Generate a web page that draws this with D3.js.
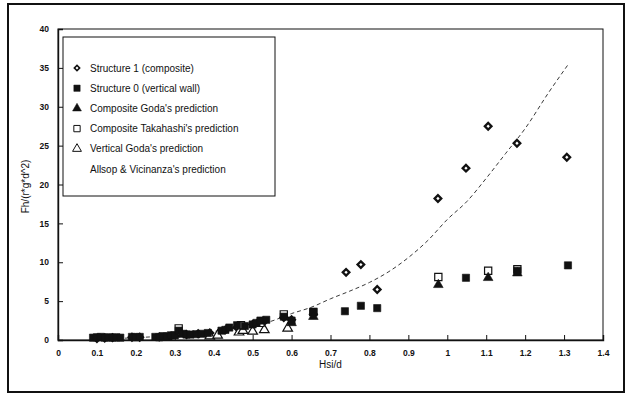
<!DOCTYPE html>
<html>
<head>
<meta charset="utf-8">
<script src="https://cdn.jsdelivr.net/npm/d3@7"></script>
<style>
  body { margin: 0; background: #fff; }
  svg { display: block; font-family: "Liberation Sans", Arial, sans-serif; }
</style>
</head>
<body>
<svg id="chart" width="627" height="397"></svg>
<script>
// values: [Hsi/d, Fh/(r*g*d^2)]
var structure1 = [[0.10,0.2],[0.12,0.25],[0.14,0.3],[0.19,0.35],[0.21,0.35],[0.26,0.4],[0.29,0.5],[0.31,0.9],
  [0.33,0.7],[0.36,0.8],[0.39,0.9],[0.43,1.3],[0.46,1.6],[0.50,2.0],[0.53,2.4],[0.58,2.9],[0.60,2.6],
  [0.656,3.3],[0.74,8.7],[0.778,9.7],[0.82,6.5],[0.976,18.2],[1.048,22.1],[1.105,27.5],[1.179,25.3],[1.307,23.5]];
var structure0 = [[0.09,0.3],[0.10,0.35],[0.11,0.4],[0.12,0.3],[0.13,0.35],[0.14,0.3],[0.15,0.35],[0.16,0.3],
  [0.19,0.4],[0.20,0.35],[0.21,0.4],[0.25,0.4],[0.26,0.35],[0.27,0.5],[0.28,0.45],[0.29,0.6],[0.30,0.6],
  [0.31,1.2],[0.32,0.8],[0.33,0.7],[0.34,0.7],[0.355,0.75],[0.37,0.8],[0.385,0.9],[0.42,1.2],[0.43,1.3],
  [0.44,1.6],[0.46,1.9],[0.48,1.8],[0.50,2.0],[0.51,2.2],[0.52,2.5],[0.535,2.6],[0.58,3.0],[0.60,2.5],
  [0.656,3.6],[0.737,3.7],[0.778,4.4],[0.82,4.1],[1.048,8.0],[1.18,8.9],[1.31,9.6]];
var compositeGoda = [[0.60,2.2],[0.656,3.0],[0.977,7.1],[1.105,8.0],[1.18,8.6]];
var compositeTakahashi = [[0.31,1.5],[0.47,1.9],[0.52,2.2],[0.58,3.3],[0.656,3.6],[0.977,8.1],[1.105,8.9],[1.18,9.1]];
var verticalGoda = [[0.39,0.5],[0.41,0.6],[0.465,1.0],[0.475,1.2],[0.50,1.1],[0.53,1.3],[0.59,1.5]];
var allsop = [[0.1,0.1],[0.2,0.3],[0.3,0.6],[0.4,1.1],[0.5,1.9],[0.54,2.3],[0.6,3.4],[0.65,4.2],[0.7,5.3],
  [0.75,6.3],[0.8,7.4],[0.85,8.8],[0.9,10.6],[0.95,12.8],[1.0,15.5],[1.05,17.8],[1.1,20.8],[1.15,24.0],
  [1.2,27.2],[1.26,31.8],[1.31,35.4]];

var xTicks = [0,0.1,0.2,0.3,0.4,0.5,0.6,0.7,0.8,0.9,1,1.1,1.2,1.3,1.4];
var yTicks = [0,5,10,15,20,25,30,35,40];
var legendLabels = ["Structure 1 (composite)", "Structure 0 (vertical wall)", "Composite Goda's prediction",
  "Composite Takahashi's prediction", "Vertical Goda's prediction", "Allsop & Vicinanza's prediction"];

var svg = d3.select("#chart");
var margin = {left: 58, top: 29, right: 24, bottom: 57};
var width = 627 - margin.left - margin.right,
    height = 397 - margin.top - margin.bottom;

var x = d3.scaleLinear().domain([0, 1.4]).range([0, width]);
var y = d3.scaleLinear().domain([0, 40]).range([height, 0]);

// outer frame
svg.append("rect")
  .attr("x", 8).attr("y", 4).attr("width", 616).attr("height", 388)
  .attr("fill", "none").attr("stroke", "#111").attr("stroke-width", 2);

var g = svg.append("g").attr("transform", "translate(" + margin.left + "," + margin.top + ")");

// plot box
g.append("rect")
  .attr("width", width).attr("height", height)
  .attr("fill", "none").attr("stroke", "#111").attr("stroke-width", 1);

var xAxis = d3.axisBottom(x).tickValues(xTicks).tickSize(-5).tickPadding(10)
  .tickFormat(function(d) { return d3.format("")(+d.toFixed(1)); });
var yAxis = d3.axisLeft(y).tickValues(yTicks).tickSize(-5).tickPadding(9);

var gx = g.append("g").attr("transform", "translate(0," + height + ")").call(xAxis);
var gy = g.append("g").call(yAxis);
[gx, gy].forEach(function(a) {
  a.select(".domain").attr("stroke", "#111").attr("stroke-width", 1.4);
  a.selectAll(".tick line").attr("stroke", "#111");
  a.selectAll(".tick text").attr("fill", "#111").style("font-size", "8.5px").style("font-weight", "bold");
});

// axis titles
g.append("text")
  .attr("x", x(0.7)).attr("y", height + 28)
  .attr("text-anchor", "middle").style("font-size", "10px").attr("fill", "#111")
  .text("Hsi/d");
g.append("text")
  .attr("transform", "translate(" + (-29) + "," + (height / 2 + 2) + ") rotate(-90)")
  .attr("text-anchor", "middle").style("font-size", "10px").attr("fill", "#111")
  .text("Fh/(r*g*d^2)");

// Allsop & Vicinanza line
var line = d3.line().x(function(d) { return x(d[0]); }).y(function(d) { return y(d[1]); }).curve(d3.curveMonotoneX);
g.append("path").datum(allsop)
  .attr("d", line).attr("fill", "none").attr("stroke", "#222")
  .attr("stroke-width", 0.9).attr("stroke-dasharray", "4,3");

var sq = d3.symbol().type(d3.symbolSquare).size(52);
var tri = d3.symbol().type(d3.symbolTriangle).size(40);
var dia = d3.symbol().type(d3.symbolSquare).size(22);

function drawPoints(data, path, fill, stroke, sw, rotate) {
  g.append("g").selectAll("path").data(data).join("path")
    .attr("transform", function(d) {
      return "translate(" + x(d[0]) + "," + y(d[1]) + ")" + (rotate ? " rotate(45)" : "");
    })
    .attr("d", path).attr("fill", fill).attr("stroke", stroke).attr("stroke-width", sw);
}

drawPoints(structure1, dia, "#fff", "#111", 2.3, true);
drawPoints(verticalGoda, tri, "#fff", "#111", 1.2);
drawPoints(compositeTakahashi, sq, "#fff", "#111", 1.2);
drawPoints(structure0, sq, "#111", "#111", 0.6);
drawPoints(compositeGoda, tri, "#111", "#111", 0.6);

// legend
var lg = g.append("g").attr("transform", "translate(" + (63 - margin.left) + "," + (37 - margin.top) + ")");
lg.append("rect").attr("width", 212).attr("height", 159)
  .attr("fill", "#fff").attr("stroke", "#111").attr("stroke-width", 1);
var legendSymbols = [
  {path: d3.symbol().type(d3.symbolSquare).size(14), fill: "#fff", stroke: "#111", sw: 1.6, rot: true},
  {path: d3.symbol().type(d3.symbolSquare).size(40), fill: "#111", stroke: "#111", sw: 0.5},
  {path: d3.symbol().type(d3.symbolTriangle).size(34), fill: "#111", stroke: "#111", sw: 0.5},
  {path: d3.symbol().type(d3.symbolSquare).size(40), fill: "#fff", stroke: "#111", sw: 1},
  {path: d3.symbol().type(d3.symbolTriangle).size(34), fill: "#fff", stroke: "#111", sw: 1},
  null
];
legendLabels.forEach(function(label, i) {
  var yy = 31 + i * 20.2;
  var s = legendSymbols[i];
  if (s) {
    lg.append("path")
      .attr("transform", "translate(14," + yy + ")" + (s.rot ? " rotate(45)" : ""))
      .attr("d", s.path).attr("fill", s.fill).attr("stroke", s.stroke).attr("stroke-width", s.sw);
  }
  lg.append("text").attr("x", 27).attr("y", yy + 3.5)
    .style("font-size", "10px").attr("fill", "#111").text(label);
});
</script>
</body>
</html>
